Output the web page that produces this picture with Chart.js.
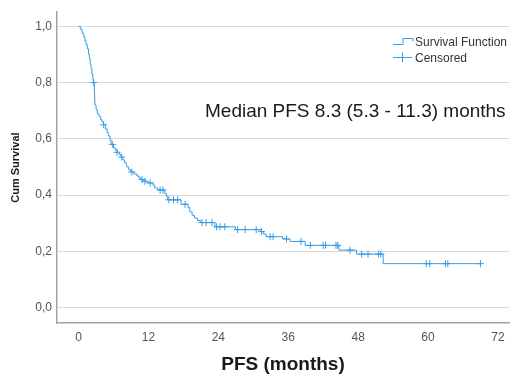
<!DOCTYPE html>
<html>
<head>
<meta charset="utf-8">
<style>
  html, body { margin: 0; padding: 0; background: #ffffff; }
  canvas { display: block; }
</style>
<script src="https://cdn.jsdelivr.net/npm/chart.js@4/dist/chart.umd.min.js"></script>
</head>
<body>
<canvas id="km" width="515" height="376"></canvas>
<script>
// Kaplan-Meier estimate: survival drops to survivalValues[i] at eventTimes[i] (months)
const eventTimes = [
  0, 0.3, 0.6, 0.9, 1.1, 1.3, 1.5, 1.7, 1.85, 2.0, 2.15, 2.3, 2.45, 2.55, 2.7, 2.75, 2.8,
  3.0, 3.2, 3.5, 3.8, 4.0, 4.3, 4.6, 4.9, 5.1, 5.4, 5.6, 6.0, 6.3, 6.6, 7.0, 7.3, 7.6,
  7.9, 8.2, 8.3, 8.6, 8.9, 9.5, 10.0, 10.4, 10.8, 11.2, 11.8, 12.8, 13.1, 13.6, 14.8,
  15.1, 15.3, 17.6, 18.8, 19.1, 19.5, 19.9, 20.4, 20.9, 23.4, 26.9, 31.3, 31.7, 32.2,
  35.0, 36.3, 38.9, 44.7, 47.7, 52.3
];
const survivalValues = [
  1.0, 0.99, 0.975, 0.962, 0.948, 0.935, 0.92, 0.9, 0.885, 0.865, 0.85, 0.83, 0.812, 0.80, 0.77, 0.745, 0.72,
  0.705, 0.69, 0.68, 0.668, 0.66, 0.65, 0.635, 0.622, 0.61, 0.595, 0.58, 0.568, 0.56, 0.552, 0.544, 0.535, 0.525,
  0.515, 0.505, 0.5, 0.49, 0.482, 0.475, 0.468, 0.46, 0.455, 0.449, 0.443, 0.435, 0.425, 0.418, 0.405,
  0.395, 0.383, 0.367, 0.355, 0.34, 0.328, 0.318, 0.31, 0.302, 0.287, 0.277, 0.27, 0.262, 0.252,
  0.244, 0.235, 0.221, 0.204, 0.19, 0.156
];
// Censored observations (months)
const censorTimes = [
  2.6, 4.3, 5.8, 6.6, 7.4, 9.15, 10.9, 11.4, 12.3, 14.0, 14.5, 15.5, 16.3, 17.0, 18.3,
  21.2, 21.9, 22.9, 23.7, 24.3, 25.1, 27.3, 28.6, 30.5, 31.4, 32.9, 33.4, 35.7, 38.2,
  39.8, 42.0, 42.4, 44.2, 44.5, 46.6, 48.6, 49.7, 51.5, 51.9, 59.7, 60.3, 63.0, 63.4, 69.0
];
const xTickValues = [0, 12, 24, 36, 48, 60, 72];
const yTickValues = [0, 0.2, 0.4, 0.6, 0.8, 1.0];
const medianLabel = 'Median PFS 8.3 (5.3 - 11.3) months';
const legendLabels = ['Survival Function', 'Censored'];

const lineColor = '#3a9ce4';

// value of the step function at time t
function survivalAt(t) {
  let s = survivalValues[0];
  for (let i = 0; i < eventTimes.length; i++) {
    if (eventTimes[i] <= t) s = survivalValues[i];
  }
  return s;
}

const lastTime = Math.max(...censorTimes, ...eventTimes);
const curvePoints = eventTimes.map((t, i) => ({ x: t, y: survivalValues[i] }));
curvePoints.push({ x: lastTime, y: survivalAt(lastTime) });
const censorPoints = censorTimes.map(t => ({ x: t, y: survivalAt(t) }));

// legend and median note drawn on top of the plot
const overlay = {
  id: 'overlay',
  afterDraw(chart) {
    const { ctx, chartArea } = chart;
    const r = chartArea.right;
    ctx.save();
    ctx.strokeStyle = lineColor;
    ctx.lineWidth = 1;
    // step icon
    const ix = r - 116, iy = 44.5;
    ctx.beginPath();
    ctx.moveTo(ix, iy);
    ctx.lineTo(ix + 10, iy);
    ctx.lineTo(ix + 10, iy - 6);
    ctx.lineTo(ix + 20, iy - 6);
    ctx.lineTo(ix + 20, iy - 3);
    ctx.stroke();
    // cross icon
    const cy = 57.5;
    ctx.beginPath();
    ctx.moveTo(ix, cy);
    ctx.lineTo(ix + 19, cy);
    ctx.moveTo(ix + 9.5, cy - 5);
    ctx.lineTo(ix + 9.5, cy + 5);
    ctx.stroke();

    ctx.fillStyle = '#333333';
    ctx.font = '12px "Liberation Sans", Arial, sans-serif';
    ctx.textBaseline = 'middle';
    ctx.textAlign = 'left';
    ctx.fillText(legendLabels[0], ix + 22, 42.5);
    ctx.fillText(legendLabels[1], ix + 22, 58.5);

    ctx.fillStyle = '#1a1a1a';
    ctx.font = '19px "Liberation Sans", Arial, sans-serif';
    ctx.textBaseline = 'alphabetic';
    ctx.fillText(medianLabel, r - 304, 117);
    ctx.restore();
  }
};

new Chart(document.getElementById('km'), {
  type: 'scatter',
  data: {
    datasets: [
      {
        label: legendLabels[0],
        data: curvePoints,
        showLine: true,
        stepped: 'before',
        borderColor: lineColor,
        borderWidth: 1,
        pointRadius: 0,
        pointHoverRadius: 0,
        fill: false
      },
      {
        label: legendLabels[1],
        data: censorPoints,
        showLine: false,
        pointStyle: 'cross',
        pointRadius: 3.5,
        pointBorderWidth: 1,
        pointBorderColor: lineColor,
        pointBackgroundColor: lineColor
      }
    ]
  },
  options: {
    responsive: false,
    animation: false,
    devicePixelRatio: 1,
    layout: { padding: { top: 12, right: 6, left: 0, bottom: 0 } },
    plugins: {
      legend: { display: false },
      tooltip: { enabled: false }
    },
    scales: {
      x: {
        type: 'linear',
        min: -3.7,
        max: 73.9,
        afterBuildTicks: s => { s.ticks = xTickValues.map(v => ({ value: v })); },
        afterFit: s => { s.height = 53; },
        grid: { display: false, drawTicks: false },
        border: { display: true, color: '#a3a3a3', width: 1.5 },
        ticks: {
          padding: 7,
          color: '#555555',
          font: { family: '"Liberation Sans", Arial, sans-serif', size: 12 },
          maxRotation: 0,
          callback: v => String(v)
        },
        title: {
          display: true,
          text: 'PFS (months)',
          color: '#1a1a1a',
          font: { family: '"Liberation Sans", Arial, sans-serif', size: 19, weight: 'bold' },
          padding: { top: 0, bottom: 0 }
        }
      },
      y: {
        type: 'linear',
        min: -0.055,
        max: 1.05,
        afterBuildTicks: s => { s.ticks = yTickValues.map(v => ({ value: v })); },
        afterFit: s => { s.width = 57; },
        grid: { color: '#dadada', lineWidth: 1, drawTicks: false },
        border: { display: true, color: '#a3a3a3', width: 1.5 },
        ticks: {
          padding: 5,
          color: '#555555',
          font: { family: '"Liberation Sans", Arial, sans-serif', size: 12 },
          callback: v => v.toFixed(1).replace('.', ',')
        },
        title: {
          display: true,
          text: 'Cum Survival',
          color: '#1a1a1a',
          font: { family: '"Liberation Sans", Arial, sans-serif', size: 11, weight: 'bold' },
          padding: { top: 9, bottom: 0 }
        }
      }
    }
  },
  plugins: [overlay]
});
</script>
</body>
</html>
